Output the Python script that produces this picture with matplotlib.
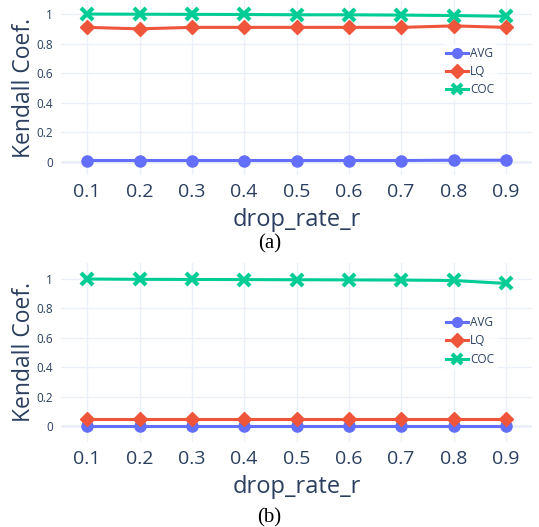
import numpy as np
import matplotlib.pyplot as plt

plt.rcParams['font.family'] = ['Open Sans', 'DejaVu Sans']

drop_rate = [0.1, 0.2, 0.3, 0.4, 0.5, 0.6, 0.7, 0.8, 0.9]

# panel (a)
avg_a = [0.01, 0.01, 0.01, 0.01, 0.01, 0.01, 0.01, 0.012, 0.012]
lq_a = [0.91, 0.90, 0.91, 0.91, 0.91, 0.91, 0.91, 0.92, 0.91]
coc_a = [1.0, 0.999, 0.998, 0.997, 0.995, 0.995, 0.993, 0.99, 0.985]

# panel (b)
avg_b = [-0.003, -0.003, -0.003, -0.003, -0.003, -0.003, -0.003, -0.003, -0.003]
lq_b = [0.05, 0.05, 0.05, 0.05, 0.05, 0.05, 0.05, 0.05, 0.05]
coc_b = [1.0, 0.998, 0.997, 0.996, 0.995, 0.994, 0.993, 0.99, 0.97]

yticks = [0, 0.2, 0.4, 0.6, 0.8, 1]
ytick_labels = ['0', '0.2', '0.4', '0.6', '0.8', '1']

blue, red, green = '#636efa', '#EF553B', '#00cc96'
txt = '#2a3f5f'
grid = '#EBF0F8'

fig = plt.figure(figsize=(5.39, 5.27), dpi=100)


def panel(rect, avg, lq, coc, ylim, leg_y, caption, cap_y):
    ax = fig.add_axes(rect)
    ax.plot(drop_rate, avg, color=blue, lw=2.2, marker='o', ms=8, label='AVG', zorder=3)
    ax.plot(drop_rate, lq, color=red, lw=2.2, marker='D', ms=7, label='LQ', zorder=3)
    ax.plot(drop_rate, coc, color=green, lw=2.2, marker='x', ms=8.5, mew=3,
            label='COC', zorder=3)
    ax.set_xlim(0.05, 0.95)
    ax.set_ylim(*ylim)
    ax.set_xticks(drop_rate)
    ax.set_xticklabels([f'{v:.1f}' for v in drop_rate])
    ax.set_yticks(yticks)
    ax.set_yticklabels(ytick_labels)
    ax.grid(True, color=grid, lw=1)
    ax.axhline(0, color=grid, lw=2, zorder=1)
    ax.set_axisbelow(True)
    for s in ax.spines.values():
        s.set_visible(False)
    ax.tick_params(axis='both', length=0, colors=txt)
    ax.tick_params(axis='x', labelsize=14, pad=6)
    ax.tick_params(axis='y', labelsize=8.5, pad=6)
    ax.set_xlabel('drop_rate_r', fontsize=17, color=txt, labelpad=5)
    ax.set_ylabel('Kendall Coef.', fontsize=16.5, color=txt, labelpad=0)
    leg = ax.legend(loc='upper left', bbox_to_anchor=(0.8, leg_y), frameon=True,
                    fontsize=8.5, handlelength=1.9, handletextpad=0.15,
                    labelspacing=0.45, borderpad=0.2, labelcolor=txt)
    leg.get_frame().set_facecolor('white')
    leg.get_frame().set_edgecolor('white')
    for h in leg.legend_handles:
        h.set_markersize(7)
    fig.text(0.5, cap_y, caption, ha='center', va='center', fontsize=15,
             family='Liberation Serif', color='black')
    return ax


panel([61 / 539, 1 - 175 / 527, 471 / 539, 175 / 527], avg_a, lq_a, coc_a,
      (-0.088, 1.095), 0.78, '(a)', 1 - 244 / 527)
panel([61 / 539, 1 - 442 / 527, 471 / 539, 179 / 527], avg_b, lq_b, coc_b,
      (-0.109, 1.109), 0.75, '(b)', 1 - 518 / 527)

fig.savefig('out.png', dpi=100, facecolor='white')
